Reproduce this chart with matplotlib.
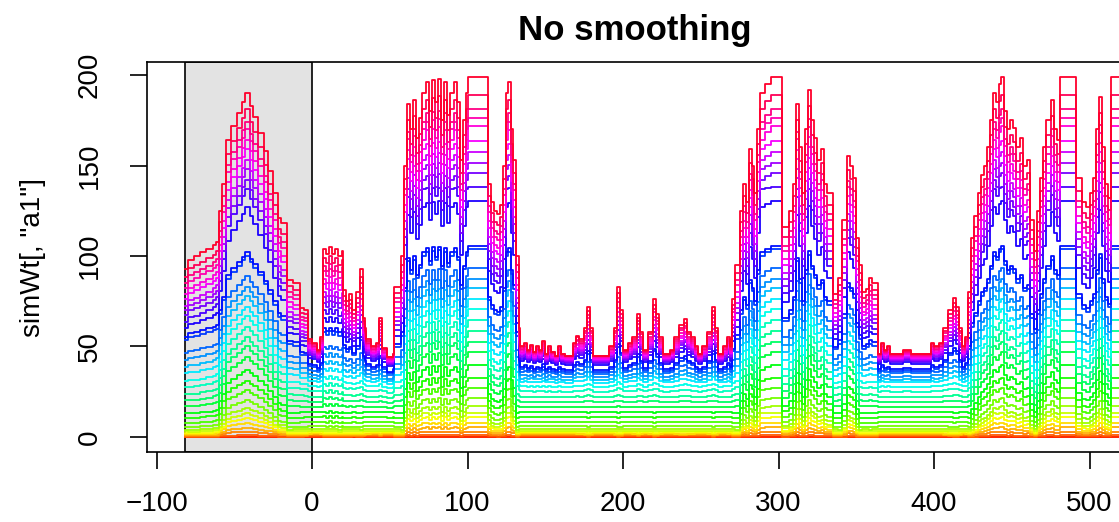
import numpy as np
import matplotlib
matplotlib.use("Agg")
import matplotlib.pyplot as plt
from matplotlib.colors import hsv_to_rgb

plt.rcParams['font.family'] = ['Liberation Sans', 'DejaVu Sans']

# top (highest) simulated weight, step values starting at each day knot
day_knots = [-82, -80, -76, -72, -68, -64, -62, -60, -58, -55,
             -52, -48, -45, -43, -40, -38, -35, -31, -28, -25,
             -22, -20, -16, -12, -8, -5, -2.6,
             0, 3, 5, 7, 9, 11, 13, 15, 17, 19, 20, 22, 24, 26, 28, 31, 33, 34, 35, 38, 41, 43,
             45, 48, 52, 53, 57, 59, 61, 63, 65, 67, 69, 71, 73, 75, 77, 79, 81, 83, 85, 87, 89,
             91, 93, 95, 97, 99, 100, 113, 115, 117, 119, 121, 123, 125, 126, 128, 129, 131,
             133, 134, 136, 138, 140, 142, 144, 146, 148, 150, 152, 154, 156, 158, 160, 163,
             166, 168, 170, 172, 175, 177, 179, 181, 185, 188, 191, 194, 196, 198, 200, 203,
             206, 209, 211, 213, 216, 219, 221, 223, 226, 230, 233, 236, 239, 241, 244, 246,
             248, 251, 254, 257, 259, 261, 264, 267, 269, 270, 272, 275, 277, 279, 281, 283,
             284, 286, 288, 291, 295, 302, 304, 307, 309, 311, 313, 315, 317, 319, 321, 323,
             325, 327, 329, 331, 333, 335, 338, 341, 344, 346, 348, 350, 352, 354, 356, 358,
             360, 362, 364, 366, 368, 370, 372, 376, 380, 385, 390, 395, 398, 400, 403, 406,
             409, 412,
             414, 416, 418, 420, 422, 424, 426, 428, 430, 432, 434, 436, 438, 440, 442, 443,
             445, 447, 449, 451, 453, 455, 457, 460, 462, 464, 466, 468, 470, 472, 475, 477,
             479, 481, 491,
             493, 495, 498, 500, 502, 504, 506, 508, 510, 512, 514, 522]
top_line = [93, 98, 100, 102, 104, 106, 108, 125, 140, 164,
            172, 179, 185, 190, 183, 177, 168, 158, 147, 135,
            121, 118, 87, 85, 71, 70, 54,
            52, 48, 55, 104, 101, 105, 101, 104, 100, 103, 81, 75, 79, 70, 80, 93, 66, 60, 54, 50, 52, 66,
            49, 44, 46, 83, 100, 150, 184, 170, 186, 165, 176, 190, 196, 180, 197, 185, 198, 175, 196, 178, 190,
            196, 185, 153, 175, 190, 199, 140, 130, 125, 123, 128, 150, 190, 196, 170, 153, 100,
            60, 50, 52, 48, 51, 47, 50, 48, 53, 46, 50, 47, 45, 50, 46, 45,
            45, 52, 56, 54, 60, 72, 60, 45, 45, 45, 50, 60, 83, 70, 48, 52,
            55, 68, 58, 48, 58, 76, 68, 55, 46, 48, 55, 62, 65, 58, 55, 50,
            46, 50, 58, 72, 60, 46, 50, 55, 50, 76, 95, 125, 140, 130, 159, 150,
            135, 170, 190, 195, 199, 116, 116, 125, 140, 184, 160, 135, 170, 192, 175, 165,
            153, 159, 140, 135, 135, 79, 88, 120, 155, 150, 143, 110, 95, 80, 82, 88,
            85, 85, 46, 52, 48, 50, 46, 46, 48, 46, 46, 46, 52, 50, 52, 60,
            70, 77,
            72, 60, 50, 55, 80, 110, 122, 135, 145, 150, 160, 175, 190, 185, 195, 199,
            180, 170, 175, 171, 160, 165, 150, 153, 120, 103, 125, 143, 160, 175, 186, 170,
            164, 199, 143,
            143, 130, 127, 135, 143, 170, 188, 160, 140, 132, 199, 199]

# level of every line (bottom to top) when the top line sits at these heights
top_anchor = [0, 45, 100, 190, 200]
level_45 = [0, 0, 0.5, 1, 1.5, 2, 2.8, 3.5, 4.5, 6, 8.3, 11, 14, 16.6, 19.4, 22, 25, 27.6,
            30, 31.5, 33, 35, 36, 37, 40, 41, 41.5, 42, 42.5, 43, 43.5, 44, 44.5, 45, 45]
level_100 = [0, 0, 0, 0.5, 1, 1.5, 2, 3, 4, 5.5, 7.7, 10.5, 13, 17, 20.4, 24, 28, 31.5, 36,
             40, 44, 48, 56, 58, 63, 67, 71, 74, 77, 81, 84, 88, 91, 95, 100]
level_190 = [0, 0, 1, 3, 5, 7.7, 10.5, 13, 16, 20.4, 26, 31, 37, 44, 50, 55, 61, 67, 72, 78,
             83, 89, 100, 102, 127, 137, 142, 148, 153, 159, 164, 170, 174, 181, 190]
level_200 = [0, 0, 1, 3, 5.5, 8, 11, 13.5, 17, 21.5, 27, 33, 40, 47, 53, 59, 65, 71, 77, 83,
             88, 94, 104, 106, 131, 138, 146, 152, 158, 164, 173, 177, 182, 190, 200]

burn_in = (-82, 0)

x = np.array(day_knots, dtype=float)
top = np.array(top_line, dtype=float)
n_lines = len(level_45)

fig = plt.figure(figsize=(11.19, 5.22), dpi=100)
ax = fig.add_axes([0.1314, 0.1341, 0.8713, 0.7471])

ax.axvspan(burn_in[0], burn_in[1], facecolor='#e3e3e3', edgecolor='black', lw=1.2, zorder=0)

for i in range(n_lines):
    lv = [0, level_45[i], level_100[i], level_190[i], level_200[i]]
    y = np.interp(top, top_anchor, lv)
    col = hsv_to_rgb([i / n_lines, 1, 1])
    ax.plot(x, y, drawstyle='steps-post', color=col, lw=1.3, zorder=2)

ax.set_xlim(-106.1, 520.9)
ax.set_ylim(-8.3, 207.2)
ax.set_xticks([-100, 0, 100, 200, 300, 400, 500])
ax.set_yticks([0, 50, 100, 150, 200])
ax.tick_params(direction='out', length=12, width=1.2, labelsize=20)
ax.tick_params(axis='x', pad=16)
ax.tick_params(axis='y', pad=20)
for lab in ax.get_yticklabels():
    lab.set_rotation(90)
    lab.set_va('center')
for s in ax.spines.values():
    s.set_linewidth(1.2)

ax.set_title('No smoothing', fontsize=25, fontweight='bold', pad=16)
ax.set_ylabel('simWt[, "a1"]', fontsize=20, labelpad=22)

fig.savefig('out.png', dpi=100)
